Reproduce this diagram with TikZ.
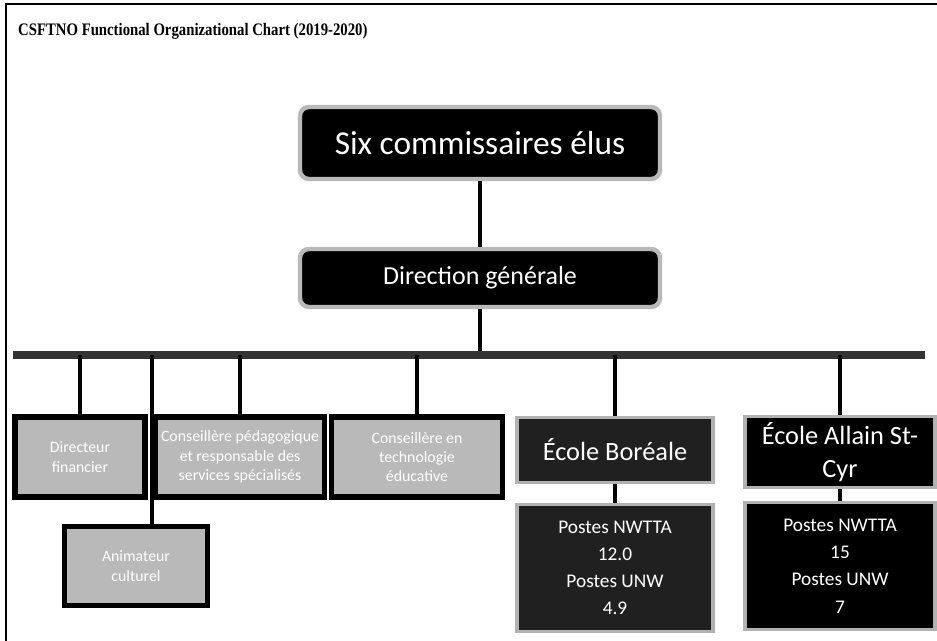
\documentclass[tikz,border=0pt]{standalone}
\usepackage{fontspec}
\setmainfont{Carlito}
\newfontfamily\titlefont[FakeStretch=0.84]{Liberation Serif}
\usetikzlibrary{positioning}

\begin{document}
\begin{tikzpicture}[
x=0.02cm, y=-0.02cm,
headbox/.style={rectangle, fill=black, draw=gray!55, line width=2.5pt, rounded corners=5pt, text=white, align=center},
staffbox/.style={rectangle, fill=gray!55, draw=black, line width=3pt, text=white, align=center, font=\small},
schoolbox/.style={rectangle, draw=gray!60, line width=2pt, text=white, align=center},
link/.style={line width=2.2pt, black},
]
\useasboundingbox (0,0) rectangle (937,641);

% Frame and title
\draw[line width=1pt] (6,641) -- (6,4) -- (937,4);
\node[anchor=west, font=\titlefont\bfseries\fontsize{10}{12}\selectfont] (title) at (12,31) {CSFTNO Functional Organizational Chart (2019-2020)};

% Steps
\node[headbox, minimum width=7.2cm, minimum height=1.44cm, font=\fontsize{19}{22}\selectfont] (board) at (480,143) {Six commissaires élus};
\node[headbox, minimum width=7.2cm, minimum height=1.16cm, font=\fontsize{14.8}{17}\selectfont] (dg) at (480,278) {Direction générale};

% Bus
\coordinate (busL) at (13,355);
\coordinate (busR) at (925,355);
\coordinate (animdrop) at (152,355);

% Staff
\node[staffbox, minimum width=2.6cm, minimum height=1.6cm] (fin) at (80,457) {Directeur\\financier};
\node[staffbox, minimum width=3.32cm, minimum height=1.6cm] (peda) at (240,457) {Conseillère pédagogique\\et responsable des\\services spécialisés};
\node[staffbox, minimum width=3.42cm, minimum height=1.6cm] (techno) at (417,457) {Conseillère en\\technologie\\éducative};
\node[staffbox, minimum width=2.86cm, minimum height=1.58cm] (anim) at (136,566) {Animateur\\culturel};

% Schools
\node[schoolbox, fill=gray!25!black, minimum width=3.92cm, minimum height=1.3cm, font=\fontsize{15}{17}\selectfont] (boreale) at (615,450) {École Boréale};
\node[schoolbox, fill=black, minimum width=3.8cm, minimum height=1.4cm, font=\fontsize{15}{19}\selectfont] (allain) at (840,452) {École Allain St-\\Cyr};
\node[schoolbox, fill=gray!25!black, minimum width=3.92cm, minimum height=2.54cm, font=\fontsize{11}{15.5}\selectfont] (postesB) at (615,568) {Postes NWTTA\\12.0\\Postes UNW\\4.9};
\node[schoolbox, fill=black, minimum width=3.8cm, minimum height=2.54cm, font=\fontsize{11}{15.5}\selectfont] (postesA) at (840,566) {Postes NWTTA\\15\\Postes UNW\\7};

% Arrows
\draw[link] (board) -- (dg);
\draw[link] (dg) -- (dg.south |- busL);
\draw[line width=4pt, gray!40!black] (busL) -- (busR);
\draw[link] (fin.north |- busL) -- (fin);
\draw[link] (peda.north |- busL) -- (peda);
\draw[link] (techno.north |- busL) -- (techno);
\draw[link] (boreale.north |- busL) -- (boreale);
\draw[link] (allain.north |- busL) -- (allain);
\draw[link] (animdrop) -- (anim.north -| animdrop);
\draw[link] (boreale) -- (postesB);
\draw[link] (allain) -- (postesA);

\end{tikzpicture}
\end{document}
